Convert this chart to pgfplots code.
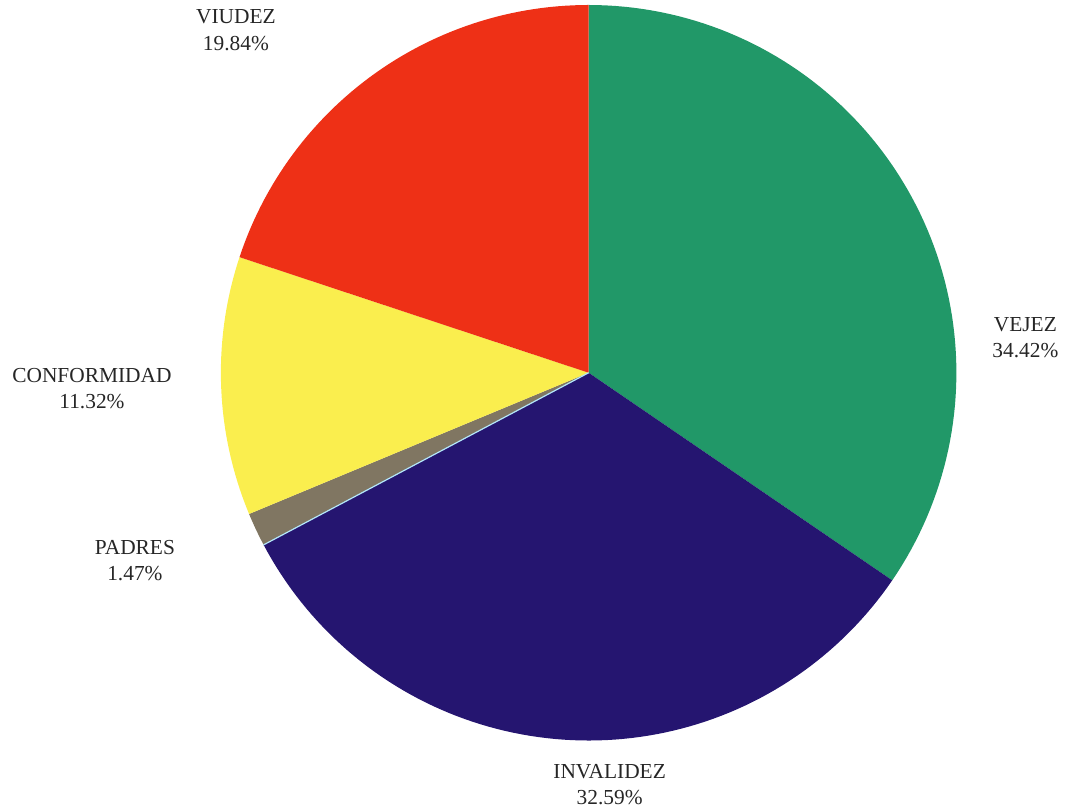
\documentclass[border=0pt]{standalone}
\usepackage{fontspec}
\setmainfont{Liberation Serif}
\usepackage{pgfplots}
\pgfplotsset{compat=1.18}

% shares in percent, drawn clockwise from 12 o'clock
\def\pVejez{34.42}
\def\pInvalidez{32.59}
\def\pPadres{1.47}
\def\pConformidad{11.32}
\def\pViudez{19.84}

\definecolor{cVejez}{RGB}{33,152,104}
\definecolor{cInvalidez}{RGB}{37,21,112}
\definecolor{cPadres}{RGB}{128,118,98}
\definecolor{cConformidad}{RGB}{250,238,78}
\definecolor{cViudez}{RGB}{238,48,22}

\pgfmathsetmacro{\tot}{\pVejez+\pInvalidez+\pPadres+\pConformidad+\pViudez}
\pgfmathsetmacro{\aA}{90}
\pgfmathsetmacro{\aB}{\aA-360*\pVejez/\tot}
\pgfmathsetmacro{\aC}{\aB-360*\pInvalidez/\tot}
\pgfmathsetmacro{\aD}{\aC-360*\pPadres/\tot}
\pgfmathsetmacro{\aE}{\aD-360*\pConformidad/\tot}
\pgfmathsetmacro{\aF}{\aE-360*\pViudez/\tot}
\pgfmathsetmacro{\aCe}{\aC+0.01}

\def\cx{589}
\def\cy{437}
\def\rr{368}

\begin{document}
\begin{tikzpicture}
\begin{axis}[
  width=532.5pt, height=405pt, scale only axis,
  xmin=0, xmax=1065, ymin=0, ymax=810,
  hide axis, clip=false,
]
\addplot[fill=cVejez, draw=none, domain=\aB:\aA, samples=90, variable=\t]
  ({\cx+\rr*cos(\t)},{\cy+\rr*sin(\t)}) -- (axis cs:\cx,\cy) -- cycle;
\addplot[fill=cInvalidez, draw=none, domain=\aC:\aB, samples=90, variable=\t]
  ({\cx+\rr*cos(\t)},{\cy+\rr*sin(\t)}) -- (axis cs:\cx,\cy) -- cycle;
\addplot[fill=cPadres, draw=none, domain=\aD:\aC, samples=10, variable=\t]
  ({\cx+\rr*cos(\t)},{\cy+\rr*sin(\t)}) -- (axis cs:\cx,\cy) -- cycle;
\addplot[fill=cConformidad, draw=none, domain=\aE:\aD, samples=40, variable=\t]
  ({\cx+\rr*cos(\t)},{\cy+\rr*sin(\t)}) -- (axis cs:\cx,\cy) -- cycle;
\addplot[fill=cViudez, draw=none, domain=\aF:\aE, samples=60, variable=\t]
  ({\cx+\rr*cos(\t)},{\cy+\rr*sin(\t)}) -- (axis cs:\cx,\cy) -- cycle;
% thin pale edge between PADRES and INVALIDEZ
\addplot[draw=cyan!30!white, line width=0.6pt, domain=\aC:\aCe, samples=2, variable=\t]
  ({\cx+\rr*cos(\t)},{\cy+\rr*sin(\t)}) -- (axis cs:\cx,\cy);

\path (axis cs:0,0) rectangle (axis cs:1065,810);

\begin{scope}[every node/.style={align=center, font=\fontsize{10.7}{13.3}\selectfont, text=black!85}]
\node at (axis cs:1026,472) {VEJEZ\\34.42\%};
\node at (axis cs:610,25) {INVALIDEZ\\32.59\%};
\node at (axis cs:135,249) {PADRES\\1.47\%};
\node at (axis cs:92,421) {CONFORMIDAD\\11.32\%};
\node at (axis cs:236,780) {VIUDEZ\\19.84\%};
\end{scope}
\end{axis}
\end{tikzpicture}
\end{document}
